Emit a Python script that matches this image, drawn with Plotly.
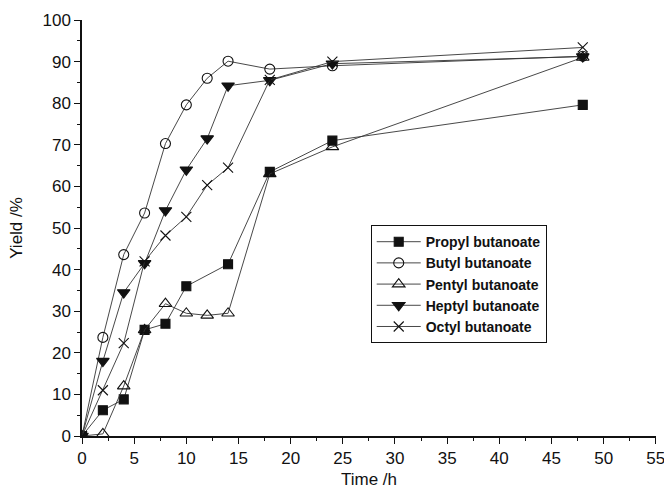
import plotly.graph_objects as go

time_propyl = [0, 2, 4, 6, 8, 10, 14, 18, 24, 48]
yield_propyl = [0, 6.2, 8.8, 25.5, 27.0, 36.0, 41.3, 63.5, 71.0, 79.6]

time_butyl = [0, 2, 4, 6, 8, 10, 12, 14, 18, 24, 48]
yield_butyl = [0, 23.7, 43.6, 53.6, 70.3, 79.6, 86.0, 90.1, 88.2, 89.0, 91.3]

time_pentyl = [0, 2, 4, 6, 8, 10, 12, 14, 18, 24, 48]
yield_pentyl = [0, 0.5, 12.0, 25.5, 31.8, 29.5, 29.0, 29.5, 63.0, 69.5, 91.0]

time_heptyl = [0, 2, 4, 6, 8, 10, 12, 14, 18, 24, 48]
yield_heptyl = [0, 18.0, 34.5, 41.5, 54.2, 64.0, 71.5, 84.2, 85.5, 89.5, 91.2]

time_octyl = [0, 2, 4, 6, 8, 10, 12, 14, 18, 24, 48]
yield_octyl = [0, 11.0, 22.3, 42.0, 48.2, 52.7, 60.3, 64.5, 85.6, 90.0, 93.4]

names = ["Propyl butanoate", "Butyl butanoate", "Pentyl butanoate",
         "Heptyl butanoate", "Octyl butanoate"]

series = [
    (time_propyl, yield_propyl, "square", 9),
    (time_butyl, yield_butyl, "circle-open", 10),
    (time_pentyl, yield_pentyl, "triangle-up-open", 11),
    (time_heptyl, yield_heptyl, "triangle-down", 11),
    (time_octyl, yield_octyl, "x-thin-open", 10),
]

fig = go.Figure()
for name, (t, y, sym, sz) in zip(names, series):
    fig.add_trace(go.Scatter(
        x=t, y=y, name=name, mode="lines+markers",
        line=dict(color="#333333", width=0.9),
        marker=dict(symbol=sym, size=sz, color="#111111",
                    line=dict(color="#111111", width=1.1)),
    ))

FONT = "Liberation Sans, Arial, sans-serif"
axis_common = dict(
    showline=True, linecolor="#111111", linewidth=1.5,
    ticks="outside", ticklen=6, tickwidth=1.3, tickcolor="#111111",
    showgrid=False, zeroline=False, ticklabeloverflow="allow",
    automargin=False,
    tickfont=dict(family=FONT, size=17, color="#111111"),
    minor=dict(ticks="outside", ticklen=3, tickwidth=1, tickcolor="#111111"),
)

fig.update_layout(
    width=664, height=493,
    margin=dict(l=82, r=8, t=20, b=57),
    paper_bgcolor="white", plot_bgcolor="white",
    font=dict(family=FONT, color="#111111"),
    xaxis=dict(range=[0, 55.02], dtick=5, tick0=0,
               title=dict(text="Time /h", font=dict(size=17), standoff=6),
               **axis_common),
    yaxis=dict(range=[0, 100], dtick=10, tick0=0,
               title=dict(text="Yield /%", font=dict(size=17), standoff=16),
               **axis_common),
    legend=dict(x=0.503, y=0.507, xanchor="left", yanchor="top",
                bordercolor="#111111", borderwidth=1, bgcolor="white",
                font=dict(family=FONT, size=14, color="#111111", weight="bold"),
                tracegroupgap=0, itemwidth=44),
    showlegend=True,
)
fig.update_xaxes(minor=dict(dtick=2.5))
fig.update_yaxes(minor=dict(dtick=5))

fig.write_html("out.html")
